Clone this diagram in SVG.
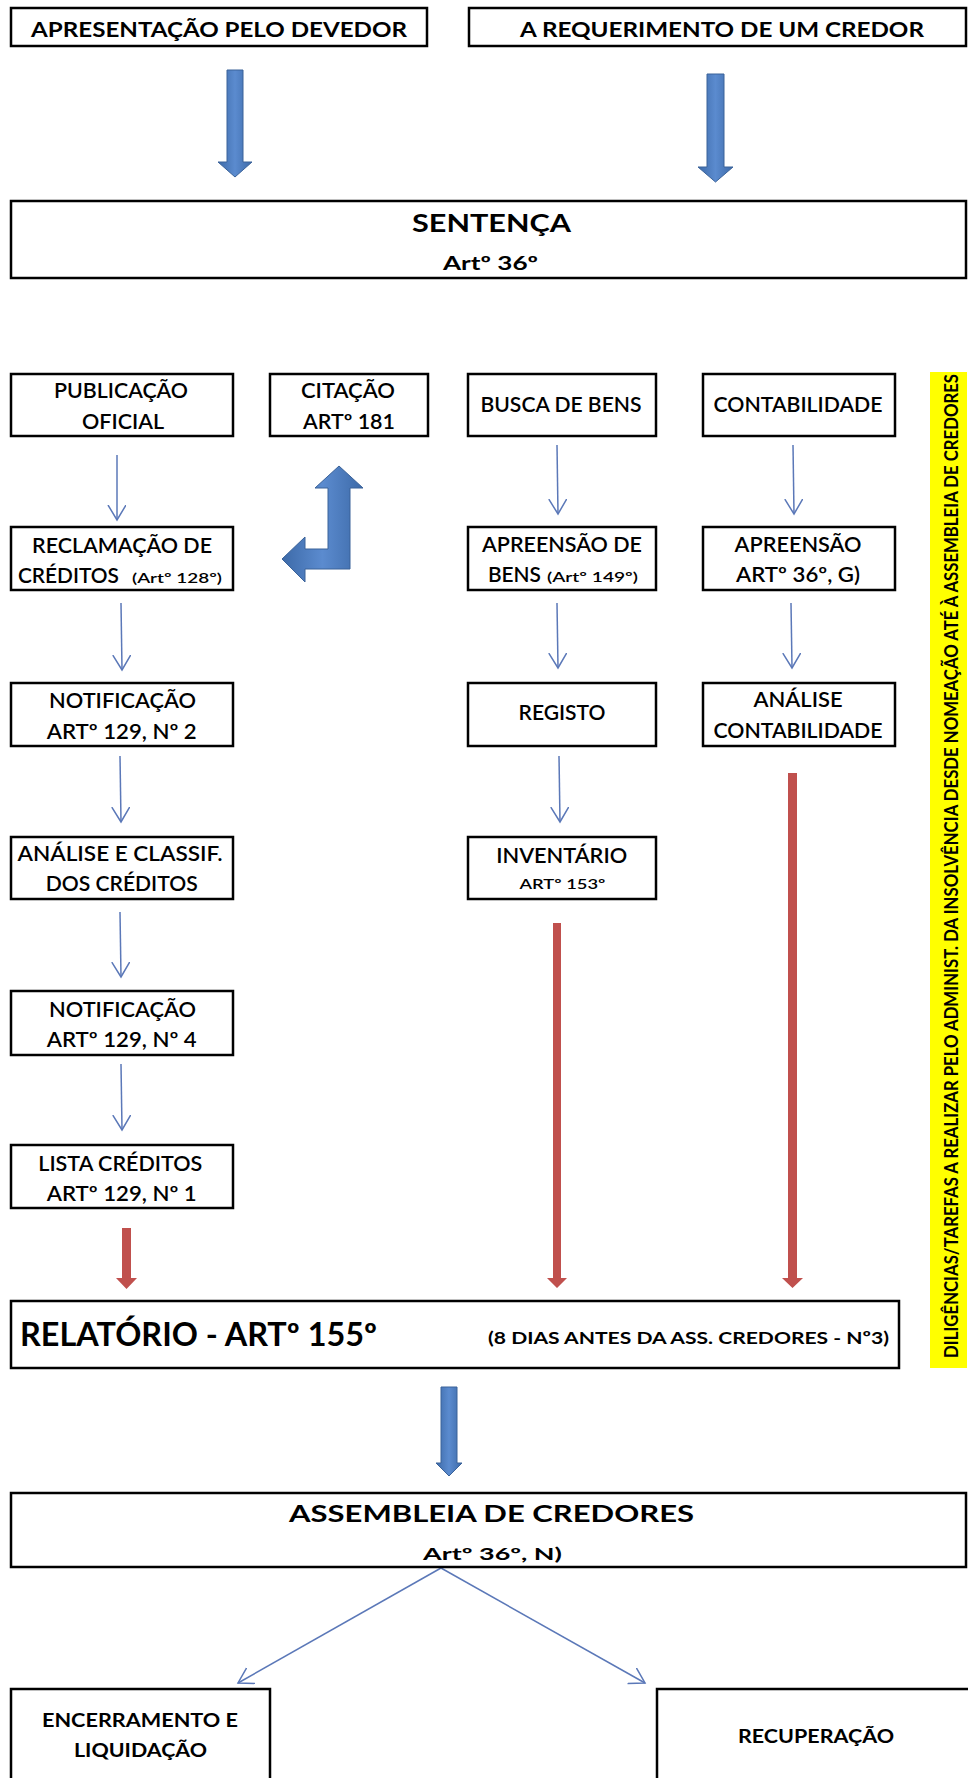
<svg xmlns="http://www.w3.org/2000/svg" width="968" height="1778" viewBox="0 0 968 1778">
<style>
.box{fill:#fff;stroke:#000;stroke-width:2.5}
text{font-family:Lato,"Liberation Sans",sans-serif;fill:#000;text-anchor:middle}
.t{font-size:21px;font-weight:600}
.h{font-weight:700}
.s{font-size:14px;font-weight:600}
.thin{stroke:#5b78b8;stroke-width:1.5;fill:none;marker-end:url(#open)}
.blue{fill:url(#bg);stroke:#3a6299;stroke-width:1}
.red{fill:#c0504d}
</style>
<defs>
<marker id="open" markerUnits="userSpaceOnUse" markerWidth="20" markerHeight="20" refX="15" refY="9" orient="auto"><path d="M0,0 L15,9 L0,18" fill="none" stroke="#5b78b8" stroke-width="1.5"/></marker>
<linearGradient id="bg" x1="0" y1="0" x2="1" y2="0"><stop offset="0" stop-color="#3d6aa8"/><stop offset="0.5" stop-color="#5b8bcf"/><stop offset="1" stop-color="#3d6aa8"/></linearGradient>
</defs>
<rect width="968" height="1778" fill="#fff"/>

<g id="connectors">
<polygon class="blue" points="227,70 243,70 243,162 252,162 235,177 218,162 227,162"/>
<polygon class="blue" points="707,74 724,74 724,167 733,167 715.5,182 698,167 707,167"/>
<polygon class="blue" points="339,466 363,488 350,488 350,569 305,569 305,582 282,559 305,537 305,549 328,549 328,488 315,488"/>
<line class="thin" x1="117" y1="455" x2="117" y2="520"/>
<line class="thin" x1="121" y1="603" x2="122" y2="670"/>
<line class="thin" x1="120" y1="756" x2="121" y2="822"/>
<line class="thin" x1="120" y1="912" x2="121" y2="977"/>
<line class="thin" x1="121" y1="1064" x2="122" y2="1130"/>
<line class="thin" x1="557" y1="445" x2="558" y2="514"/>
<line class="thin" x1="793" y1="445" x2="794" y2="514"/>
<line class="thin" x1="557" y1="603" x2="558" y2="668"/>
<line class="thin" x1="791" y1="603" x2="792" y2="668"/>
<line class="thin" x1="559" y1="756" x2="560" y2="822"/>
<polygon class="red" points="122,1228 131,1228 131,1278 137,1278 126.5,1289 116,1278 122,1278"/>
<polygon class="red" points="553,923 561,923 561,1278 567,1278 557,1288 547,1278 553,1278"/>
<polygon class="red" points="788,773 797,773 797,1278 803,1278 792.5,1288 782,1278 788,1278"/>
<polygon class="blue" points="441,1387 457,1387 457,1463 462,1463 449,1476 436,1463 441,1463"/>
<line class="thin" x1="441" y1="1568" x2="238" y2="1683"/>
<line class="thin" x1="441" y1="1568" x2="645" y2="1683"/>
</g>

<g id="apresentacao"><rect class="box" x="11" y="8" width="416" height="38"/><text class="h" x="219" y="37" font-size="20.5" textLength="376" lengthAdjust="spacingAndGlyphs">APRESENTAÇÃO PELO DEVEDOR</text></g>
<g id="requerimento"><rect class="box" x="469" y="8" width="497" height="38"/><text class="h" x="722" y="37" font-size="20.5" textLength="404" lengthAdjust="spacingAndGlyphs">A REQUERIMENTO DE UM CREDOR</text></g>
<g id="sentenca"><rect class="box" x="11" y="201" width="955" height="77"/><text class="h" x="491.5" y="232" font-size="25" textLength="159" lengthAdjust="spacingAndGlyphs">SENTENÇA</text><text class="h" x="490.5" y="270" font-size="19.5" textLength="95" lengthAdjust="spacingAndGlyphs">Artº 36º</text></g>

<g id="publicacao"><rect class="box" x="11" y="374" width="222" height="62"/><text class="t" x="121" y="398" textLength="134" lengthAdjust="spacingAndGlyphs">PUBLICAÇÃO</text><text class="t" x="123" y="429" textLength="82" lengthAdjust="spacingAndGlyphs">OFICIAL</text></g>
<g id="citacao"><rect class="box" x="270" y="374" width="158" height="62"/><text class="t" x="348" y="398" textLength="94" lengthAdjust="spacingAndGlyphs">CITAÇÃO</text><text class="t" x="349" y="429" textLength="92" lengthAdjust="spacingAndGlyphs">ARTº 181</text></g>
<g id="busca"><rect class="box" x="468" y="374" width="188" height="62"/><text class="t" x="561" y="412" textLength="161" lengthAdjust="spacingAndGlyphs">BUSCA DE BENS</text></g>
<g id="contabilidade"><rect class="box" x="703" y="374" width="192" height="62"/><text class="t" x="798" y="412" textLength="169" lengthAdjust="spacingAndGlyphs">CONTABILIDADE</text></g>

<g id="reclamacao"><rect class="box" x="11" y="527" width="222" height="63"/><text class="t" x="122" y="553" textLength="180" lengthAdjust="spacingAndGlyphs">RECLAMAÇÃO DE</text><text class="t" x="68.5" y="583" textLength="101" lengthAdjust="spacingAndGlyphs">CRÉDITOS</text><text class="s" x="177" y="583" textLength="90" lengthAdjust="spacingAndGlyphs">(Artº 128º)</text></g>
<g id="apreensao-bens"><rect class="box" x="468" y="527" width="188" height="63"/><text class="t" x="562" y="552" textLength="160" lengthAdjust="spacingAndGlyphs">APREENSÃO DE</text><text class="t" x="514.5" y="582" textLength="53" lengthAdjust="spacingAndGlyphs">BENS</text><text class="s" x="592.5" y="582" textLength="91" lengthAdjust="spacingAndGlyphs">(Artº 149º)</text></g>
<g id="apreensao"><rect class="box" x="703" y="527" width="192" height="63"/><text class="t" x="798" y="552" textLength="127" lengthAdjust="spacingAndGlyphs">APREENSÃO</text><text class="t" x="798" y="582" textLength="124" lengthAdjust="spacingAndGlyphs">ARTº 36º, G)</text></g>

<g id="notificacao2"><rect class="box" x="11" y="683" width="222" height="63"/><text class="t" x="122.5" y="708" textLength="147" lengthAdjust="spacingAndGlyphs">NOTIFICAÇÃO</text><text class="t" x="121.7" y="739" textLength="150" lengthAdjust="spacingAndGlyphs">ARTº 129, Nº 2</text></g>
<g id="registo"><rect class="box" x="468" y="683" width="188" height="63"/><text class="t" x="562" y="720" textLength="87" lengthAdjust="spacingAndGlyphs">REGISTO</text></g>
<g id="analise-contab"><rect class="box" x="703" y="683" width="192" height="63"/><text class="t" x="798" y="707" textLength="89" lengthAdjust="spacingAndGlyphs">ANÁLISE</text><text class="t" x="798" y="738" textLength="169" lengthAdjust="spacingAndGlyphs">CONTABILIDADE</text></g>

<g id="analise-classif"><rect class="box" x="11" y="837" width="222" height="62"/><text class="t" x="120" y="861" textLength="205" lengthAdjust="spacingAndGlyphs">ANÁLISE  E CLASSIF.</text><text class="t" x="121.7" y="891" textLength="152" lengthAdjust="spacingAndGlyphs">DOS CRÉDITOS</text></g>
<g id="inventario"><rect class="box" x="468" y="837" width="188" height="62"/><text class="t" x="561.7" y="863" textLength="131" lengthAdjust="spacingAndGlyphs">INVENTÁRIO</text><text class="s" x="562.5" y="889" font-size="15" textLength="86" lengthAdjust="spacingAndGlyphs">ARTº 153º</text></g>

<g id="notificacao4"><rect class="box" x="11" y="991" width="222" height="64"/><text class="t" x="122.5" y="1017" textLength="147" lengthAdjust="spacingAndGlyphs">NOTIFICAÇÃO</text><text class="t" x="121.7" y="1047" textLength="150" lengthAdjust="spacingAndGlyphs">ARTº 129, Nº 4</text></g>
<g id="lista"><rect class="box" x="11" y="1145" width="222" height="63"/><text class="t" x="120.3" y="1171" textLength="164" lengthAdjust="spacingAndGlyphs">LISTA CRÉDITOS</text><text class="t" x="121.7" y="1201" textLength="150" lengthAdjust="spacingAndGlyphs">ARTº 129, Nº 1</text></g>

<g id="relatorio"><rect class="box" x="11" y="1301" width="888" height="67"/><text class="h" x="198.5" y="1346" font-size="31.5" textLength="357" lengthAdjust="spacingAndGlyphs">RELATÓRIO - ARTº 155º</text><text class="h" x="688.5" y="1344" font-size="17.5" textLength="401" lengthAdjust="spacingAndGlyphs">(8 DIAS ANTES DA ASS. CREDORES - Nº3)</text></g>

<g id="nota"><rect x="930" y="372" width="37" height="996" fill="#ffff00"/><text class="h" transform="translate(958,866) rotate(-90)" x="0" y="0" font-size="18" textLength="984" lengthAdjust="spacingAndGlyphs">DILIGÊNCIAS/TAREFAS A REALIZAR PELO ADMINIST. DA INSOLVÊNCIA DESDE NOMEAÇÃO ATÉ À ASSEMBLEIA DE CREDORES</text></g>

<g id="assembleia"><rect class="box" x="11" y="1493" width="955" height="74"/><text class="h" x="491.5" y="1522" font-size="22.5" textLength="405" lengthAdjust="spacingAndGlyphs">ASSEMBLEIA DE CREDORES</text><text class="h" x="492.5" y="1560" font-size="17" textLength="139" lengthAdjust="spacingAndGlyphs">Artº 36º, N)</text></g>
<g id="encerramento"><rect class="box" x="11" y="1689" width="259" height="110"/><text class="h" x="140" y="1727" font-size="19.5" textLength="196" lengthAdjust="spacingAndGlyphs">ENCERRAMENTO E</text><text class="h" x="140.5" y="1757" font-size="19.5" textLength="133" lengthAdjust="spacingAndGlyphs">LIQUIDAÇÃO</text></g>
<g id="recuperacao"><rect class="box" x="657" y="1689" width="330" height="110"/><text class="h" x="816" y="1743" font-size="18.5" textLength="156" lengthAdjust="spacingAndGlyphs">RECUPERAÇÃO</text></g>
</svg>
